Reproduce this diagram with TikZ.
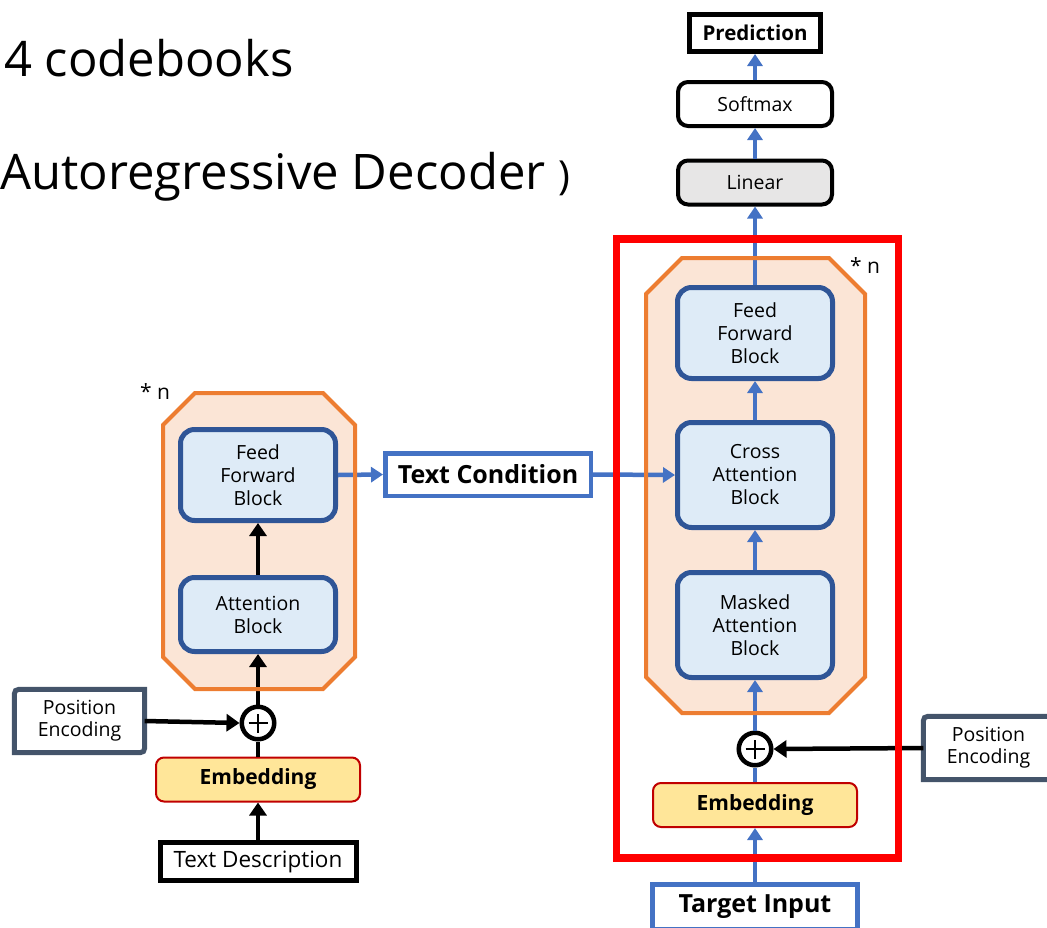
\documentclass[tikz,border=0pt]{standalone}
\usepackage{fontspec}
\setmainfont{Open Sans}
\usetikzlibrary{arrows.meta,calc}

\definecolor{flowblue}{HTML}{4472C4}
\definecolor{blockedge}{HTML}{2F5597}
\definecolor{blockfill}{HTML}{DEEBF7}
\definecolor{stackedge}{HTML}{ED7D31}
\definecolor{stackfill}{HTML}{FBE5D6}
\definecolor{embedfill}{HTML}{FFE699}
\definecolor{embededge}{HTML}{C00000}
\definecolor{linearfill}{HTML}{E7E6E6}
\definecolor{posedge}{HTML}{44546A}
\definecolor{frame}{HTML}{FF0000}

\tikzset{
  blk/.style={draw=blockedge, fill=blockfill, line width=5pt, rounded corners=14pt,
    minimum width=155pt, align=center, inner sep=0pt,
    font=\fontsize{19.5}{23}\selectfont},
  embed/.style={draw=embededge, fill=embedfill, line width=2pt, rounded corners=8pt,
    minimum width=204pt, minimum height=44pt, inner sep=0pt,
    font=\bfseries\fontsize{21}{24}\selectfont},
  headbox/.style={draw=black, line width=4pt, rounded corners=10pt, fill=white,
    minimum width=154pt, minimum height=44pt, inner sep=0pt,
    font=\fontsize{19.5}{22}\selectfont},
  plainbox/.style={draw=black, line width=5pt, fill=white, inner sep=0pt},
  bluebox/.style={draw=flowblue, line width=4.5pt, fill=white, inner sep=0pt,
    font=\bfseries\fontsize{25}{28}\selectfont},
  sumnode/.style={circle, draw=black, line width=4.5pt, fill=white,
    minimum size=32.5pt, inner sep=0pt},
  posnode/.style={minimum width=130pt, minimum height=63pt, inner sep=0pt,
    align=center, font=\fontsize{19.5}{22}\selectfont},
  posline/.style={draw=posedge, line width=5pt, fill=white},
  stack/.style={draw=stackedge, line width=4pt},
  bflow/.style={draw=flowblue, line width=4.5pt, -{Triangle[length=12pt,width=15pt]}},
  kflow/.style={draw=black, line width=4.5pt, -{Triangle[length=13pt,width=17pt]}},
  bline/.style={draw=flowblue, line width=4.5pt},
  kline/.style={draw=black, line width=4.5pt},
  rep/.style={font=\fontsize{21}{21}\selectfont, inner sep=0pt},
  title/.style={anchor=base west, inner sep=0pt, font=\fontsize{49}{52}\selectfont},
}

\begin{document}
\begin{tikzpicture}[x=1pt,y=-1pt]
\useasboundingbox (0,0) rectangle (1047,927);
\clip (0,0) rectangle (1047,927);

% headings
\node[title] (t1) at (4,76) {4 codebooks};
\node[title] (t2) at (0,189) {Autoregressive Decoder {\fontsize{40}{40}\selectfont )}};

% repeated-stack backgrounds
\fill[stackfill] (195,393) -- (323,393) -- (355,425) -- (355,657) -- (323,689)
  -- (195,689) -- (163,657) -- (163,425) -- cycle;
\fill[stackfill] (682,258) -- (829,258) -- (865,294) -- (865,677) -- (829,713)
  -- (682,713) -- (646,677) -- (646,294) -- cycle;

% ---------- text encoder ----------
\node[blk, minimum height=91pt] (ffbL) at (258,475) {Feed\\Forward\\Block};
\node[blk, minimum height=74pt] (attL) at (258,614.5) {Attention\\Block};
\node[sumnode] (sumL) at (258,723) {};
\node[embed] (embL) at (258,779.5) {Embedding};
\node[plainbox, minimum width=196pt, minimum height=38pt,
  font=\fontsize{22.5}{24}\selectfont] (desc) at (258,861.5) {Text Description};
\node[posnode] (posL) at (79.5,721) {};
\draw[posline] (posL.south west) -- ([yshift=-10pt]posL.north west)
  .. controls (posL.north west) .. ([xshift=10pt]posL.north west)
  -- (posL.north east) -- ([yshift=10pt]posL.south east)
  .. controls (posL.south east) .. ([xshift=-10pt]posL.south east) -- cycle;
\node[posnode] at (posL.center) {Position\\Encoding};
\node[rep] (repL) at (155,392) {* n};

\draw[kflow] (desc.north) -- (embL.south);
\draw[kline] (embL.north) -- (sumL.south);
\draw[kflow] (posL.east) -- (sumL.west);
\draw[kflow] (sumL.north) -- (attL.south);
\draw[kflow] (attL.north) -- (ffbL.south);
\draw[black, line width=2.5pt] ([xshift=-9.5pt]sumL.center) -- ([xshift=9.5pt]sumL.center)
  ([yshift=-9.5pt]sumL.center) -- ([yshift=9.5pt]sumL.center);

% ---------- condition ----------
\node[bluebox, minimum width=205.5pt, minimum height=42.5pt] (cond) at (488,474.5) {Text Condition};

% ---------- decoder ----------
\node[blk, minimum height=91pt] (ffbR) at (755,333) {Feed\\Forward\\Block};
\node[blk, minimum height=105pt] (cross) at (755,475) {Cross\\Attention\\Block};
\node[blk, minimum height=105pt] (mask) at (755,625) {Masked\\Attention\\Block};
\node[sumnode] (sumR) at (755,749) {};
\node[embed] (embR) at (755,805) {Embedding};
\node[bluebox, minimum width=205pt, minimum height=45pt] (target) at (755,907) {Target Input};
\node[posnode] (posR) at (988.5,748) {};
\draw[posline] (posR.south west) -- ([yshift=-10pt]posR.north west)
  .. controls (posR.north west) .. ([xshift=10pt]posR.north west)
  -- (posR.north east) -- ([yshift=10pt]posR.south east)
  .. controls (posR.south east) .. ([xshift=-10pt]posR.south east) -- cycle;
\node[posnode] at (posR.center) {Position\\Encoding};
\node[rep] (repR) at (865,266) {* n};

\node[headbox, fill=linearfill] (lin) at (755,182.5) {Linear};
\node[headbox] (soft) at (755,104) {Softmax};
\node[plainbox, minimum width=131pt, minimum height=37pt,
  font=\bfseries\fontsize{20.5}{22}\selectfont] (pred) at (755,33) {Prediction};

\draw[bflow] (target.north) -- (embR.south);
\draw[bline] (embR.north) -- (sumR.south);
\draw[bflow] (sumR.north) -- (mask.south);
\draw[bflow] (mask.north) -- (cross.south);
\draw[bflow] (cross.north) -- (ffbR.south);
\draw[bflow] (ffbR.north) -- (lin.south);
\draw[bflow] (lin.north) -- (soft.south);
\draw[bflow] (soft.north) -- (pred.south);
\draw[kflow] (posR.west) -- (sumR.east);
\draw[black, line width=2.5pt] ([xshift=-9.5pt]sumR.center) -- ([xshift=9.5pt]sumR.center)
  ([yshift=-9.5pt]sumR.center) -- ([yshift=9.5pt]sumR.center);

\draw[bflow] (ffbL.east) -- (cond.west);
\draw[bflow] (cond.east) -- (cross.west);

% stack outlines and decoder frame over the connectors
\draw[stack] (195,393) -- (323,393) -- (355,425) -- (355,657) -- (323,689)
  -- (195,689) -- (163,657) -- (163,425) -- cycle;
\draw[stack] (682,258) -- (829,258) -- (865,294) -- (865,677) -- (829,713)
  -- (682,713) -- (646,677) -- (646,294) -- cycle;
\draw[frame, line width=7.5pt] (616.5,239) rectangle (898.5,858);
\end{tikzpicture}
\end{document}
